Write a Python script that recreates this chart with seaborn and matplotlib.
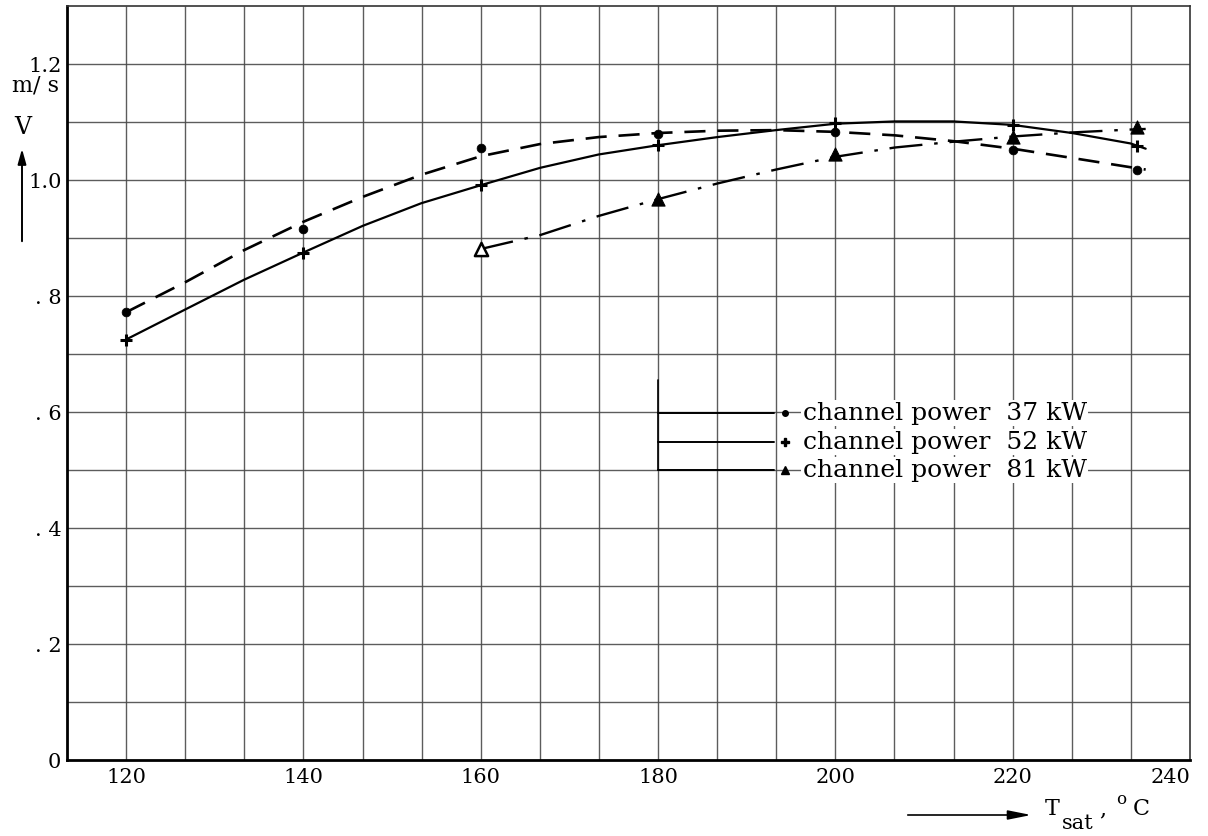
import numpy as np
import pandas as pd
import matplotlib
matplotlib.use("Agg")
import matplotlib.pyplot as plt
import seaborn as sns

# ---- data ----
# measured points
pt_x = [120, 140, 160, 180, 200, 220, 234]
p37_y = [0.772, 0.915, 1.055, 1.079, 1.082, 1.052, 1.017]
p52_y = [0.725, 0.875, 0.992, 1.060, 1.099, 1.095, 1.059]
p81_x = [160, 180, 200, 220, 234]
p81_y = [0.881, 0.967, 1.044, 1.075, 1.092]

# hand-drawn curves read at the graph-paper lines
cx = [120, 126.7, 133.3, 140, 146.7, 153.3, 160, 166.7, 173.3, 180,
      186.7, 193.3, 200, 206.7, 213.3, 220, 226.7, 233.3, 235]
c37 = [0.772, 0.824, 0.879, 0.928, 0.971, 1.009, 1.041, 1.062, 1.074, 1.081,
       1.085, 1.086, 1.083, 1.077, 1.067, 1.054, 1.038, 1.022, 1.018]
c52 = [0.725, 0.777, 0.828, 0.875, 0.921, 0.960, 0.991, 1.021, 1.044, 1.060,
       1.074, 1.086, 1.097, 1.101, 1.101, 1.095, 1.081, 1.063, 1.054]
cx81 = [160, 166.7, 173.3, 180, 186.7, 193.3, 200, 206.7, 213.3, 220, 226.7, 233.3, 235]
c81 = [0.881, 0.905, 0.938, 0.967, 0.994, 1.018, 1.040, 1.056, 1.066, 1.075, 1.082, 1.087, 1.088]

xticks = [120, 140, 160, 180, 200, 220, 240]
xticklabels = ["120", "140", "160", "180", "200", "220", "240"]
yticks = [0, 0.2, 0.4, 0.6, 0.8, 1.0, 1.2]
yticklabels = ["0", ". 2", ". 4", ". 6", ". 8", "1.0", "1.2"]
legend_labels = ["channel power  37 kW", "channel power  52 kW", "channel power  81 kW"]

sns.set_style("white")
plt.rcParams["font.family"] = ["DejaVu Serif", "DejaVu Sans"]
plt.rcParams["text.color"] = "black"
plt.rcParams["xtick.color"] = "black"
plt.rcParams["ytick.color"] = "black"

W, H = 1208, 836
fig = plt.figure(figsize=(W / 100, H / 100), dpi=100)
ax = fig.add_axes([67 / W, 1 - 760 / H, (1190 - 67) / W, (760 - 6) / H])

x0, x1 = 113.333, 240.0
ax.set_xlim(x0, x1)
ax.set_ylim(0, 1.3)

# graph paper grid
gx = np.linspace(x0, x1, 20)[1:-1]
gy = np.linspace(0, 1.3, 14)[1:-1]
ax.vlines(gx, 0, 1.3, color="#4a4a4a", lw=1.0, alpha=0.9, zorder=0)
ax.hlines(gy, x0, x1, color="#4a4a4a", lw=1.0, alpha=0.9, zorder=0)

# curves
sns.lineplot(x=cx, y=c37, ax=ax, color="k", lw=1.9, linestyle=(0, (8, 4.5)), estimator=None)
sns.lineplot(x=cx, y=c52, ax=ax, color="k", lw=1.6, estimator=None)
sns.lineplot(x=cx81, y=c81, ax=ax, color="k", lw=1.7, linestyle=(0, (14, 5, 1.5, 5)), estimator=None)

# points
sns.scatterplot(x=pt_x, y=p37_y, ax=ax, color="k", marker="o", s=40, zorder=5, edgecolor="k")
sns.scatterplot(x=pt_x, y=p52_y, ax=ax, color="k", marker="+", s=80, linewidth=2.2, zorder=5)
sns.scatterplot(x=p81_x[1:], y=p81_y[1:], ax=ax, color="k", marker="^", s=90, zorder=5, edgecolor="k")
sns.scatterplot(x=p81_x[:1], y=p81_y[:1], ax=ax, color="white", marker="^", s=90, zorder=5,
                edgecolor="k", linewidth=1.8)

# ticks
ax.set_xticks(xticks)
ax.set_xticklabels(xticklabels, fontsize=15)
ax.get_xticklabels()[-1].set_horizontalalignment("right")
ax.set_yticks(yticks)
ax.set_yticklabels(yticklabels, fontsize=15)
ax.tick_params(axis="both", which="both", length=0, labelcolor="black")
ax.tick_params(axis="x", pad=6)
ax.tick_params(axis="y", pad=4)
ax.grid(False)

for s in ["top", "right"]:
    ax.spines[s].set_linewidth(1.2)
    ax.spines[s].set_color("#333333")
for s in ["left", "bottom"]:
    ax.spines[s].set_linewidth(2.0)
    ax.spines[s].set_color("black")

# y label
fig.text(35 / W, 1 - 86 / H, "m/ s", fontsize=16, ha="center", va="center")
fig.text(23 / W, 1 - 127 / H, "V", fontsize=17, ha="center", va="center")
fig.add_artist(matplotlib.patches.FancyArrowPatch(
    (22 / W, 1 - 244 / H), (22 / W, 1 - 146 / H), transform=fig.transFigure,
    arrowstyle="-|>,head_length=9,head_width=2.5", color="k", lw=1.4))

# x label
fig.add_artist(matplotlib.patches.FancyArrowPatch(
    (905 / W, 1 - 815 / H), (1034 / W, 1 - 815 / H), transform=fig.transFigure,
    arrowstyle="-|>,head_length=14,head_width=2.8", color="k", lw=1.2))
fig.text(1045 / W, 1 - 815 / H, "T", fontsize=16, ha="left", va="baseline")
fig.text(1062 / W, 1 - 829 / H, "sat", fontsize=15, ha="left", va="baseline")
fig.text(1099 / W, 1 - 815 / H, ",", fontsize=16, ha="left", va="baseline")
fig.text(1116 / W, 1 - 804 / H, "o", fontsize=12, ha="left", va="baseline")
fig.text(1133 / W, 1 - 815 / H, "C", fontsize=16, ha="left", va="baseline")

# legend (drawn like the original)
leg_y = [0.598, 0.548, 0.500]
markers = [dict(marker="o", ms=4), dict(marker="P", ms=6), dict(marker="^", ms=6)]
ax.plot([180, 180], [0.5, 0.655], color="k", lw=1.2)
for yy, lab, mk in zip(leg_y, legend_labels, markers):
    ax.plot([180, 193.1], [yy, yy], color="k", lw=1.4)
    ax.plot([194.3], [yy], color="k", linestyle="none", **mk)
    ax.text(196.3, yy, lab, fontsize=18, ha="left", va="center", color="black",
            bbox=dict(facecolor="white", edgecolor="none", pad=1.0))

fig.savefig("out.png", dpi=100, facecolor="white")
